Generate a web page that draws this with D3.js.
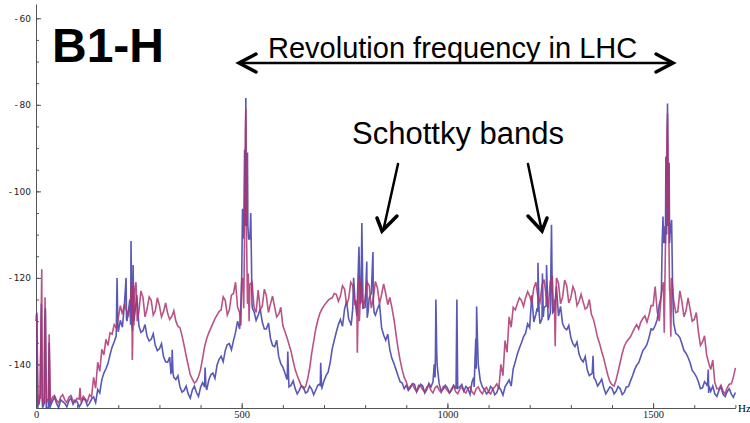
<!DOCTYPE html>
<html>
<head>
<meta charset="utf-8">
<script src="https://cdn.jsdelivr.net/npm/d3@7/dist/d3.min.js"></script>
<style>
  body { margin: 0; background: #fff; }
  .axis path, .axis line { stroke: #555; }
  .ylab text { font-family: "DejaVu Sans", sans-serif; font-size: 9px; fill: #222; }
  .xlab text { font-family: "Liberation Serif", serif; font-size: 10.5px; fill: #222; }
</style>
</head>
<body>
<svg width="750" height="423"></svg>
<script>
// B1-H spectrum, dB vs Hz

/*  DATA  */

// levels every 10 Hz (0 .. 1700), mids at the 5 Hz points in between
const hzStep = 10;

const blueLevel = [
  -130, -147, -149, -150, -148.5, -149, -148.2, -149, -148.4, -149.2,
  -148.6, -149, -148.3, -149, -147.5, -145.8, -143.5, -141, -137.7, -134.8,
  -132.5, -131.4, -129.6, -130.8, -128.5, -131, -132.2, -133.5, -134.2, -135.6,
  -136.4, -138.2, -139.5, -141.8, -143.5, -145.2, -146, -146.8, -145.9, -146.5,
  -145.3, -144.8, -143.6, -142, -140.2, -138.1, -136.8, -135.2, -134.5, -130,
  -120, -78.4, -111, -127.8, -128.6, -130.2, -131.8, -134, -135.9, -138.2,
  -140.6, -143.5, -144.8, -145.6, -146, -145.2, -146.3, -145.7, -145.9, -144.5,
  -143.8, -141.8, -136.4, -132.5, -129.6, -127.2, -129.5, -127, -128.8, -125.6,
  -126.8, -124.5, -125.8, -127.2, -131.5, -134.4, -136.6, -139.8, -142.6, -144.3,
  -144.8, -145.4, -144.6, -145.5, -145, -145.8, -145.2, -143, -144.5, -145.7,
  -145.4, -146, -145.5, -145.2, -146.2, -145.6, -144, -141, -143.8, -145.8,
  -146.4, -145.6, -146.5, -145.9, -145.2, -143.6, -141, -137.6, -135, -132.8,
  -131.5, -130.2, -127.8, -129.4, -126.5, -128.2, -127.4, -128.8, -130.6, -132,
  -133.8, -135.9, -137.6, -139.4, -141.3, -142.2, -143.6, -144.3, -145.4, -146,
  -145.5, -146.2, -145.6, -146.4, -145.1, -142.6, -140.2, -138.2, -136.2, -133.8,
  -132, -129.6, -124, -112, -112, -130.5, -133.2, -135.2, -137.4, -139.6,
  -142, -144, -145.4, -144.6, -146.2, -146.8, -146, -146.9, -146.3, -146.8,
  -146.5
];

const blueMid = [
  -149.5, -148, -150, -149.6, -147.6, -150, -148.6, -149.8, -147.8, -148.2,
  -149.8, -147.9, -149.6, -148, -148.8, -146.6, -142, -139.8, -136, -133.4,
  -129.8, -132.6, -127.4, -132.2, -129.9, -132.6, -130.8, -134.6, -132.9, -136.8,
  -135.2, -139.4, -138.3, -143, -142.6, -146.4, -145, -147.8, -145, -147.4,
  -144.2, -145.9, -142.4, -143.2, -138.8, -139.4, -135.4, -136.6, -132.6, -131.8,
  -109, -108, -126, -129.8, -127.2, -131.8, -130.4, -135.6, -134.4, -139.8,
  -142, -145.2, -143.8, -146.8, -144.9, -146.6, -145, -147, -144.8, -145.4,
  -142.6, -139.6, -134.4, -130.8, -131.2, -125.4, -130.6, -124.8, -130.2, -124.2,
  -129.2, -123.6, -128.6, -125.4, -133.2, -133, -138.6, -141.2, -144, -145.6,
  -146, -144.4, -146.4, -144.6, -146.6, -144.4, -146.8, -140, -146.2, -144.8,
  -146.6, -144.8, -146.8, -144.6, -145.1, -146.9, -145.2, -139, -145.2, -146.8,
  -145.1, -147, -145.2, -147.1, -144.4, -145, -139.4, -136.2, -133.6, -130.6,
  -130.8, -128.4, -130.6, -126.8, -129.8, -125.6, -130.2, -126.6, -131.6, -131,
  -135.2, -134.8, -138.8, -138.2, -142.6, -141.4, -145, -143.4, -146.8, -145.2,
  -146.8, -145.1, -147, -145.2, -143.8, -141.2, -139.6, -136.8, -135.4, -131.8,
  -131, -126.2, -110, -92, -106, -132.8, -133.8, -136.8, -138.4, -141.4,
  -142.8, -145.6, -144, -146.6, -145, -147.4, -145.2, -147.4, -145.6, -147.6
];

const magentaLevel = [
  -129, -148, -148.5, -148, -147.6, -148.3, -147.5, -148.2, -147.6, -148.4,
  -147.8, -148.6, -148, -147, -143, -139.5, -136.5, -134.2, -132.7, -130.8,
  -129.3, -128.4, -127.5, -125, -122.5, -127.8, -124.5, -127.2, -125.2, -127.6,
  -126.4, -127.8, -128.2, -128.9, -130, -131.5, -135.6, -140.2, -143.4, -143.9,
  -141.2, -135.8, -132.7, -130.5, -128.6, -127.4, -125.2, -127.4, -123.6, -126.8,
  -121, -81, -121.5, -126.8, -122.8, -126.5, -124.2, -126, -126.7, -128.4,
  -131, -133.8, -137, -141.2, -143.8, -145.6, -143.5, -137.5, -131.8, -128.2,
  -126.4, -125.2, -124.6, -123.8, -124.2, -122.6, -124.8, -121.8, -125.4, -120.6,
  -124.8, -121.8, -124.6, -122.4, -123.8, -123.6, -124.5, -129.5, -136.3, -141.2,
  -144, -145, -145.6, -144.8, -145.8, -145.2, -146, -145.4, -145.9, -145.1,
  -146, -145.6, -146.3, -145.7, -146.2, -145.5, -146.4, -145.6, -146.2, -145.8,
  -146.4, -145.7, -144.5, -140, -134.5, -129, -126.8, -125.9, -125.2, -124.6,
  -124.2, -122.4, -124.5, -121.6, -124.2, -120.8, -125, -121.2, -124.4, -121.8,
  -124.6, -123.2, -125.4, -125.6, -126.8, -128.4, -131.6, -135.2, -138.6, -142.5,
  -144.7, -143.6, -139.5, -135.8, -134.2, -132.6, -130.8, -130.2, -128.8, -128.6,
  -126.4, -127.8, -123.5, -112, -123, -125.2, -127.8, -125.5, -127.6, -127.3,
  -129.6, -132.4, -134.8, -137.8, -141.2, -144.2, -145.6, -146.2, -145.4, -144.5,
  -140.8
];

const magentaMid = [
  -149, -147.2, -148, -148.8, -147.2, -148.9, -147, -148.8, -147.2, -148.8,
  -148, -147.4, -148.6, -147.5, -145.5, -141.6, -137.8, -135.6, -133, -131.6,
  -126.4, -126, -128.6, -135, -126, -123.6, -129, -124.4, -128.6, -124.6,
  -129, -125.8, -129.6, -127.6, -131.2, -133.4, -138, -142.4, -144.3, -142.8,
  -138.6, -134, -131.6, -129.4, -127.8, -124.4, -128.6, -124, -129, -122.6,
  -127, -123, -128.4, -121.6, -127.4, -122.6, -128, -124.2, -129, -126.8,
  -132.4, -135.4, -139.2, -142.6, -145, -145.2, -141, -134.6, -129.8, -127.2,
  -125.8, -124.8, -123.6, -125.4, -121.8, -126.2, -121, -126, -119.6, -127,
  -120, -126.2, -120.8, -126, -121.4, -126.2, -126.8, -133, -139, -143,
  -145.6, -144.6, -146.2, -145, -146.4, -144.8, -146.6, -145, -146.5, -145.4,
  -146.6, -145, -146.8, -145.2, -146.6, -145.2, -146.9, -145.2, -146.8, -145.3,
  -146.8, -145.2, -145.6, -142.6, -137.2, -131.4, -127.4, -124.6, -126.6, -123.2,
  -125.8, -121, -125.6, -120.4, -125.8, -125, -119.8, -126.2, -119.8, -125.8,
  -122, -126.4, -123.8, -127.2, -125, -129.6, -133.8, -137, -140.6, -144,
  -145, -141.6, -137.4, -134.8, -133.6, -131.6, -131.8, -129.4, -130.2, -126.4,
  -122, -130, -121, -107, -120, -128, -122.4, -129, -124.6, -130,
  -128, -135.6, -133.4, -139.6, -139, -145.6, -144.8, -146.8, -144.6, -143
];

// narrow lines, peaks and notches, [Hz, dB]
const blueDetail = [
  [2,-128],[4,-150],[8,-149],[13,-126],[16,-150],[21,-130],[23,-127],[26,-150],[32,-135],[34,-150],
  [197,-120],[199,-131],[215,-126],[219,-120],[221,-130],[228,-125],[231,-111.5],[233,-131],[236,-117],[238,-130],[245,-124],
  [328,-142],[331,-136.6],[333,-142],[409,-145],[411,-140.7],[413,-145],
  [498,-126],[501,-112],[502,-104],[503,-111],[505,-109],[507,-90.4],[508,-108],[509,-100],
  [511,-104],[512,-108],[514,-91],[515,-108],[517,-111],[522,-105],[524,-118],[526,-127],
  [611,-142],[612,-137],[614,-143],[691,-145],[692,-139.6],[694,-145],
  [766,-131],[772,-120],[785,-112.8],[788,-126],[792,-107.3],[795,-127],[804,-116.2],[807,-128],[819,-114],[822,-128],[835,-126],
  [965,-144],[968,-140],[971,-137],[972,-125],[974,-137],[976,-141],
  [1021,-145.5],[1023,-125],[1025,-145.5],
  [1064,-143],[1067,-139],[1069,-134],[1071,-126.6],[1073,-134],[1075,-140],
  [1205,-124],[1218,-127],[1220,-116.5],[1223,-128],[1231,-119],[1233,-129],[1241,-117],[1244,-127],[1253,-107.7],[1256,-128],[1265,-122],
  [1352,-142],[1354,-138],[1356,-143],
  [1518,-125],[1522,-112],[1524,-105.8],[1526,-112],[1529,-108],[1531,-92],[1533,-110],[1535,-79.7],
  [1537,-108],[1539,-93.4],[1541,-110],[1545,-106.6],[1547,-120],[1549,-128],
  [1632,-145],[1634,-141.2],[1636,-145]
];

const magentaDetail = [
  [2,-128.5],[5,-149],[9,-147],[14,-118],[17,-149],[22,-124.5],[25,-149],[29,-148],[32,-133],[35,-149],
  [105,-148],[107,-145.4],[109,-148],
  [233,-121],[234,-139],[236,-121.5],[238,-131],[243,-121],[246,-130],[255,-123],[265,-129],
  [485,-121],[495,-128],[498,-131],[503,-120],[506,-118],[508,-100],[509,-86],
  [511,-95],[512,-112],[514,-126],[516,-119],[518,-130],[525,-121],[535,-128],
  [775,-126],[781,-137.3],[784,-122],[786,-130],[795,-127],[805,-121],[815,-127],
  [1245,-127],[1255,-119.5],[1258,-128],[1262,-135.8],[1265,-120],[1275,-126],[1285,-120.5],
  [1505,-122],[1515,-130],[1525,-121],[1527,-132.7],[1532,-98],[1534,-85],[1535,-82],[1536,-92],
  [1538,-108],[1540,-120],[1543,-133.6],[1546,-121],[1555,-128],[1565,-123]
];

const xMajorTicks = [0, 500, 1000, 1500];
const xMinorTicks = d3.range(0, 1701, 100);
const yMajorTicks = [-60, -80, -100, -120, -140];
const yMinorTicks = d3.range(-150, -56, 5);

/*  SCALES  */

const svg = d3.select('svg');

const x = d3.scaleLinear().domain([0, 1700]).range([36, 735.4]);
const y = d3.scaleLinear().domain([-150, -56.7]).range([407.7, 4]);

// merge the 10 Hz levels, the 5 Hz mids and the detail points
// (a mid that falls on a detail point is dropped)
function series(level, mid, detail) {
  const taken = new Set(detail.map(d => d[0]));
  return level.map((v, i) => [i * hzStep, v])
    .concat(mid.map((v, i) => [i * hzStep + hzStep / 2, v]).filter(d => !taken.has(d[0])))
    .concat(detail)
    .sort((a, b) => a[0] - b[0]);
}

const line = d3.line()
  .x(d => x(d[0]))
  .y(d => y(d[1]));

/*  AXES  */

svg.append('g').attr('class', 'axis')
  .attr('transform', 'translate(0,408)')
  .call(d3.axisBottom(x).tickValues(xMinorTicks).tickSize(-3).tickSizeOuter(0).tickFormat(''));

svg.append('g').attr('class', 'axis xlab')
  .attr('transform', 'translate(0,408)')
  .call(d3.axisBottom(x).tickValues(xMajorTicks).tickSize(-5).tickSizeOuter(0).tickPadding(3)
    .tickFormat(d3.format('d')))
  .call(g => g.select('.domain').remove());

svg.append('g').attr('class', 'axis')
  .attr('transform', 'translate(36,0)')
  .call(d3.axisLeft(y).tickValues(yMinorTicks).tickSize(-3).tickSizeOuter(0).tickFormat(''));

svg.append('g').attr('class', 'axis ylab')
  .attr('transform', 'translate(36,0)')
  .call(d3.axisLeft(y).tickValues(yMajorTicks).tickSize(-5).tickSizeOuter(0).tickPadding(5)
    .tickFormat(d => '-\u2009' + Math.abs(d)))
  .call(g => g.select('.domain').remove());

svg.append('text')
  .attr('x', 738).attr('y', 412)
  .style('font-family', '"Liberation Serif", serif')
  .style('font-size', '11px')
  .text('Hz');

/*  LINES  */

svg.append('path')
  .datum(series(blueLevel, blueMid, blueDetail))
  .attr('d', line)
  .attr('fill', 'none')
  .attr('stroke', '#3b3ba8')
  .attr('stroke-opacity', 0.85)
  .attr('stroke-width', 1.6);

svg.append('path')
  .datum(series(magentaLevel, magentaMid, magentaDetail))
  .attr('d', line)
  .attr('fill', 'none')
  .attr('stroke', '#ab3570')
  .attr('stroke-opacity', 0.85)
  .attr('stroke-width', 1.6);

/*  ANNOTATIONS  */

svg.append('text')
  .attr('x', 52).attr('y', 62)
  .style('font-family', '"Liberation Sans", Arial, sans-serif')
  .style('font-weight', 'bold')
  .style('font-size', '48px')
  .text('B1-H');

svg.append('text')
  .attr('x', 268).attr('y', 58)
  .style('font-family', '"Liberation Sans", Arial, sans-serif')
  .style('font-size', '29px')
  .text('Revolution frequency in LHC');

svg.append('text')
  .attr('x', 352).attr('y', 144)
  .style('font-family', '"Liberation Sans", Arial, sans-serif')
  .style('font-size', '31px')
  .text('Schottky bands');

const ann = svg.append('g')
  .attr('fill', 'none')
  .attr('stroke', '#000')
  .attr('stroke-linecap', 'round')
  .attr('stroke-linejoin', 'miter');

// double arrow
ann.append('path').attr('stroke-width', 2.5).attr('d', 'M239,63H673');
ann.append('path').attr('stroke-width', 3.5).attr('d', 'M256,54L239,63L256,72');
ann.append('path').attr('stroke-width', 3.5).attr('d', 'M656,54L673,63L656,72');

// pointers to the bands
ann.append('path').attr('stroke-width', 2.5).attr('d', 'M398,164L384,227');
ann.append('path').attr('stroke-width', 3.5).attr('d', 'M377,218L382,231L397,216');
ann.append('path').attr('stroke-width', 2.5).attr('d', 'M528,164L541,227');
ann.append('path').attr('stroke-width', 3.5).attr('d', 'M528,216L542,231L547,218');
</script>
</body>
</html>
